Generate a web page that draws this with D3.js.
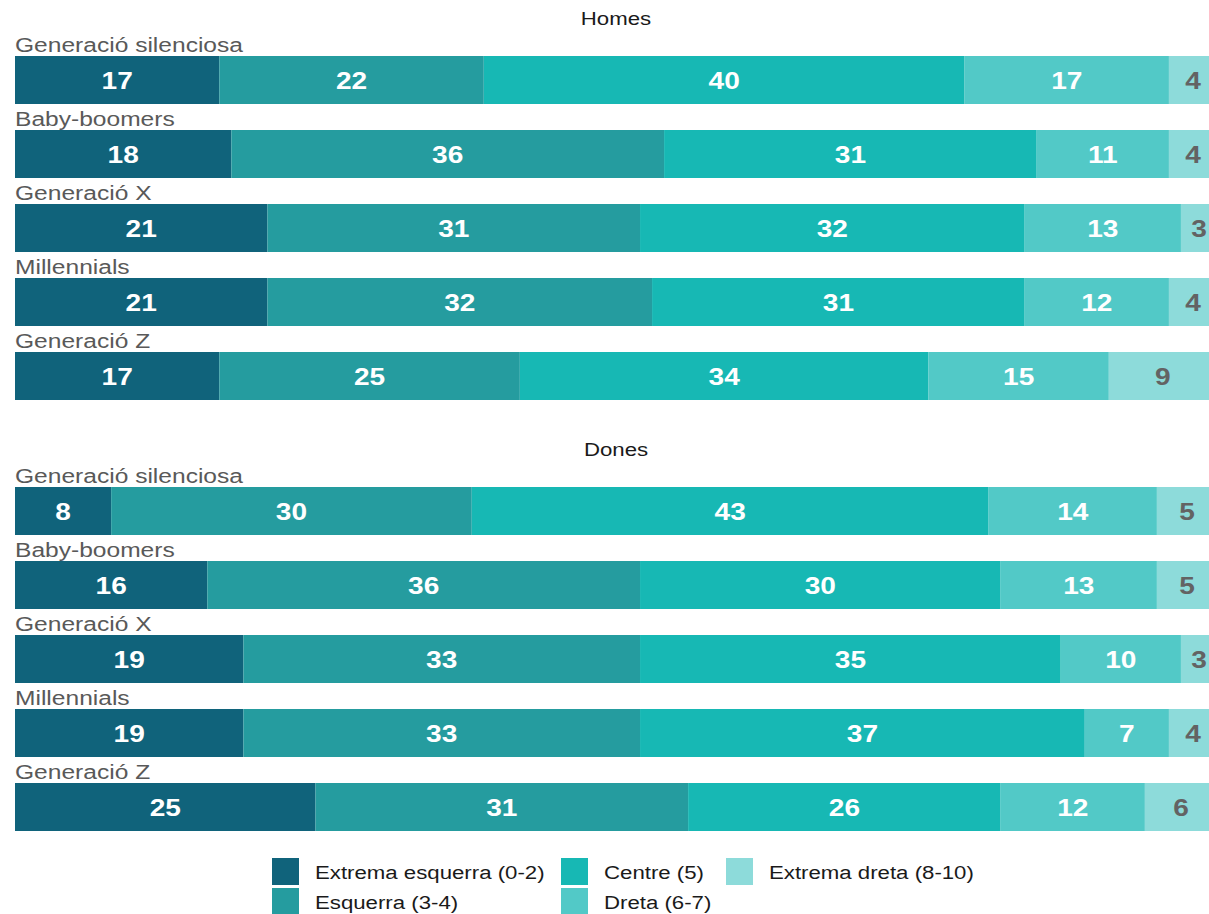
<!DOCTYPE html>
<html>
<head>
  <meta charset="utf-8">
  <title>Ideologia per generació</title>
  <style>
    body { margin: 0; background: #fff; }
    text { font-family: 'Liberation Sans', Arial, sans-serif; }
  </style>
</head>
<body>
  <script src="https://cdn.jsdelivr.net/npm/d3@7"></script>
  <script>
    const width = 1209;
    const height = 914;
    const sx = 1.17; // the original picture is a bit stretched horizontally

    const generations = ['Generació silenciosa', 'Baby-boomers', 'Generació X', 'Millennials', 'Generació Z'];
    const categories = ['Extrema esquerra (0-2)', 'Esquerra (3-4)', 'Centre (5)', 'Dreta (6-7)', 'Extrema dreta (8-10)'];
    const colors = ['#10637b', '#259c9f', '#17b8b4', '#52c9c7', '#8ddbda'];

    const homes = [
      [17, 22, 40, 17, 4],
      [18, 36, 31, 11, 4],
      [21, 31, 32, 13, 3],
      [21, 32, 31, 12, 4],
      [17, 25, 34, 15, 9]
    ];
    const dones = [
      [8, 30, 43, 14, 5],
      [16, 36, 30, 13, 5],
      [19, 33, 35, 10, 3],
      [19, 33, 37, 7, 4],
      [25, 31, 26, 12, 6]
    ];

    const svg = d3.select('body')
      .append('svg')
      .attr('width', width)
      .attr('height', height);

    const x = d3.scaleLinear().domain([0, 100]).range([15, 1217]);
    const color = d3.scaleOrdinal().domain(categories).range(colors);

    const at = (px, py) => `translate(${px},${py}) scale(${sx},1)`;

    const renderPanel = (selection, title, data, top) => {
      const g = selection.append('g');

      g.append('text')
        .attr('transform', at(616, top + 25))
        .attr('text-anchor', 'middle')
        .attr('font-size', 19)
        .attr('fill', '#1a1a1a')
        .text(title);

      const y = d3.scaleBand()
        .domain(generations)
        .range([top + 30, top + 30 + 74 * 5])
        .paddingInner(0);

      const barH = 48;

      const rows = g.selectAll('g.row')
        .data(generations)
        .join('g')
        .attr('class', 'row')
        .attr('transform', (d) => `translate(0,${y(d) + 26})`);

      rows.append('text')
        .attr('transform', at(15, -4))
        .attr('font-size', 21)
        .attr('fill', '#595959')
        .text((d) => d);

      const segs = rows.selectAll('g.seg')
        .data((d, i) => {
          const vals = data[i];
          const cum = d3.cumsum(vals);
          return vals.map((v, j) => ({ v, j, x0: cum[j] - v, x1: cum[j] }));
        })
        .join('g')
        .attr('class', 'seg');

      segs.append('rect')
        .attr('x', (d) => x(d.x0))
        .attr('width', (d) => x(d.x1) - x(d.x0))
        .attr('height', barH)
        .attr('fill', (d) => color(categories[d.j]));

      segs.append('text')
        .attr('transform', (d) => at((x(d.x0) + x(d.x1)) / 2, barH / 2))
        .attr('dy', '0.36em')
        .attr('text-anchor', 'middle')
        .attr('font-size', 24)
        .attr('font-weight', 'bold')
        .attr('fill', (d) => (d.j === 4 ? '#636363' : '#ffffff'))
        .text((d) => d.v);
    };

    svg
      .call(renderPanel, 'Homes', homes, 0)
      .call(renderPanel, 'Dones', dones, 431);

    // legend
    const legendPos = [
      [272, 858], [272, 888], [561, 858], [561, 888], [726, 858]
    ];
    const legend = svg.append('g')
      .selectAll('g')
      .data(categories)
      .join('g')
      .attr('transform', (d, i) => `translate(${legendPos[i][0]},${legendPos[i][1]})`);

    legend.append('rect')
      .attr('width', 27)
      .attr('height', 27)
      .attr('fill', (d) => color(d));

    legend.append('text')
      .attr('transform', at(43, 14))
      .attr('dy', '0.36em')
      .attr('font-size', 19)
      .attr('fill', '#1a1a1a')
      .text((d) => d);
  </script>
</body>
</html>
